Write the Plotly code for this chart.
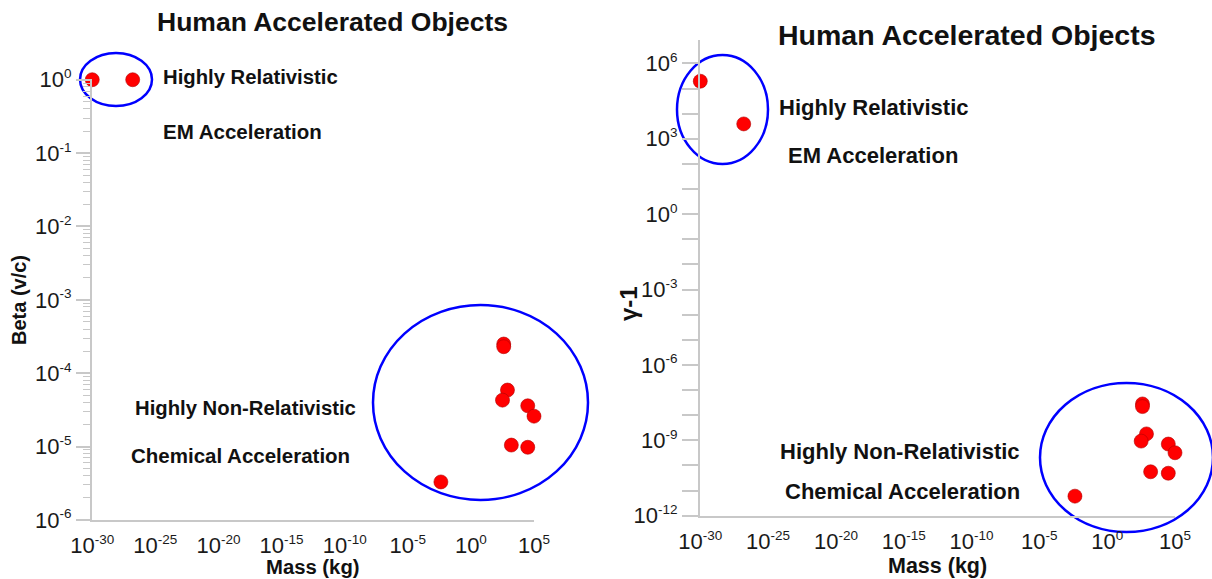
import plotly.graph_objects as go

# ---------------- data ----------------
mass_kg = [1.0e-30, 1.6e-27, 400, 400, 790, 320, 3.2e4, 1.0e5, 1600, 3.2e4, 4.2e-3]
beta = [1.0, 1.0, 2.5e-4, 2.3e-4, 5.9e-5, 4.3e-5, 3.6e-5, 2.6e-5, 1.05e-5, 9.8e-6, 3.3e-6]
gamma_minus_1 = [1.95e5, 3.9e3, 2.8e-8, 2.2e-8, 1.8e-9, 9.3e-10, 7.1e-10, 3.2e-10,
                 5.6e-11, 4.9e-11, 6.0e-12]

x_tick_exps = [-30, -25, -20, -15, -10, -5, 0, 5]
beta_tick_exps = [-6, -5, -4, -3, -2, -1, 0]
gamma_tick_exps = list(range(-12, 7))
gamma_label_exps = [-12, -9, -6, -3, 0, 3, 6]

title_text = "Human Accelerated Objects"
labels_rel = ["Highly Relativistic", "EM Acceleration"]
labels_nonrel = ["Highly Non-Relativistic", "Chemical Acceleration"]

# ---------------- layout helpers ----------------
W, H = 1212, 579
def px(x):
    return x / W
def py(y):
    return 1 - y / H

FONT = "Liberation Sans, Arial, sans-serif"
AXIS_GRAY = "#c8c8c8"
TXT = "#1a1a1a"

def sup(e):
    return "10<sup><span style='font-size:13.5px'>%d</span></sup>" % e

fig = go.Figure()

marker = dict(size=14, color="#ff0000", line=dict(width=0.6, color="#b00000"))
fig.add_trace(go.Scatter(x=mass_kg, y=beta, mode="markers", marker=marker,
                         xaxis="x", yaxis="y", cliponaxis=False, showlegend=False))
fig.add_trace(go.Scatter(x=mass_kg, y=gamma_minus_1, mode="markers", marker=marker,
                         xaxis="x2", yaxis="y2", cliponaxis=False, showlegend=False))

tickfont = dict(family=FONT, size=22, color=TXT)
xcommon = dict(type="log", range=[-30.02, 5], showgrid=False, zeroline=False,
               showline=True, linecolor=AXIS_GRAY, linewidth=2,
               tickmode="array", tickvals=[10.0 ** e for e in x_tick_exps],
               ticktext=[sup(e) for e in x_tick_exps],
               ticks="outside", ticklen=5, tickcolor="rgba(0,0,0,0)",
               tickfont=tickfont, automargin=False)

minor_vals = [m * 10.0 ** e for e in beta_tick_exps[:-1] for m in range(2, 10)]

fig.update_layout(
    width=W, height=H, margin=dict(l=0, r=0, t=0, b=0),
    paper_bgcolor="white", plot_bgcolor="white",
    xaxis=dict(domain=[px(92), px(534)], anchor="y", **xcommon),
    yaxis=dict(type="log", range=[-6, 0.01], domain=[py(520), py(79)], anchor="x",
               showgrid=False, zeroline=False, showline=True, linecolor=AXIS_GRAY,
               linewidth=2, tickmode="array",
               tickvals=[10.0 ** e for e in beta_tick_exps],
               ticktext=[sup(e) for e in beta_tick_exps],
               ticks="outside", ticklen=14, tickcolor=AXIS_GRAY, tickwidth=1.5,
               minor=dict(tickmode="array", tickvals=minor_vals, ticks="outside",
                          ticklen=7, tickcolor=AXIS_GRAY, tickwidth=1),
               tickfont=tickfont, automargin=False),
    xaxis2=dict(domain=[px(700), px(1175)], anchor="y2", **xcommon),
    yaxis2=dict(type="log", range=[-12, 6.93], domain=[py(515.7), py(40)], anchor="x2",
                showgrid=False, zeroline=False, showline=True, linecolor=AXIS_GRAY,
                linewidth=2, tickmode="array",
                tickvals=[10.0 ** e for e in gamma_tick_exps],
                ticktext=[sup(e) if e in gamma_label_exps else "" for e in gamma_tick_exps],
                ticks="outside", ticklen=16, tickcolor=AXIS_GRAY, tickwidth=1.5,
                tickfont=tickfont, automargin=False),
)

# ---------------- ellipses ----------------
def ellipse(x0, y0, x1, y1):
    fig.add_shape(type="circle", xref="paper", yref="paper",
                  x0=px(x0), x1=px(x1), y0=py(y1), y1=py(y0),
                  line=dict(color="#0000ff", width=2.5), layer="below")

ellipse(80, 53, 152, 106)
ellipse(373, 305, 588, 500)
ellipse(677, 55, 768, 164)
ellipse(1040, 383, 1213, 532)

# ---------------- texts ----------------
def text(s, x, y, size, angle=0):
    fig.add_annotation(text="<b>%s</b>" % s, xref="paper", yref="paper",
                       x=px(x), y=py(y), xanchor="center", yanchor="middle",
                       showarrow=False, textangle=angle,
                       font=dict(family=FONT, size=size, color="#111111"))

text(title_text, 332, 22, 26.5)
text(title_text, 967, 35, 28.5)

text(labels_rel[0], 250.5, 77, 20.3)
text(labels_rel[1], 242, 131, 20.5)
text(labels_nonrel[0], 245.5, 408, 20.3)
text(labels_nonrel[1], 240, 455, 20.5)

text(labels_rel[0], 874, 107, 22)
text(labels_rel[1], 873, 155, 22)
text(labels_nonrel[0], 899.5, 451, 22)
text(labels_nonrel[1], 902.5, 491, 22)

text("Mass (kg)", 313, 567, 20.3)
text("Mass (kg)", 937.5, 566, 21.5)
text("Beta (v/c)", 19, 300, 20, angle=-90)
text("γ-1", 628, 304, 24, angle=-90)

fig.write_html("out.html",
               config={"displayModeBar": False},
               post_script="document.body.style.margin='0px';"
                           "document.body.style.overflow='hidden';")
